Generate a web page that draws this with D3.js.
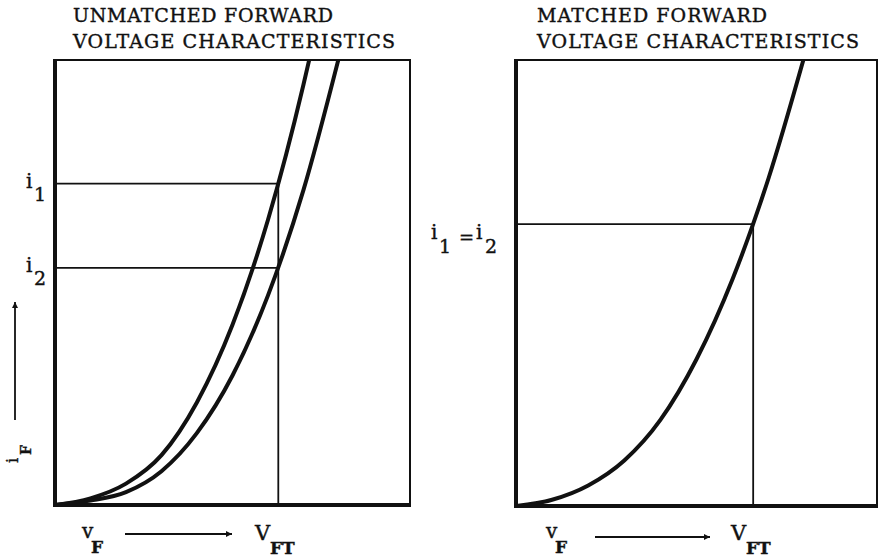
<!DOCTYPE html>
<html>
<head>
<meta charset="utf-8">
<script src="https://cdn.jsdelivr.net/npm/d3@7"></script>
<style>
	body { margin: 0; background: #fff; }
	text { font-family: "DejaVu Serif", "Liberation Serif", serif; fill: #111; stroke: #111; stroke-width: 0.4; }
</style>
</head>
<body>
<svg id="chart" width="883" height="558"></svg>
<script>
// forward voltage (0..10) vs forward current (0..10)
const curveUnmatchedA = [[0, 0], [1, 0.15], [2, 0.48], [3, 1.12], [4, 2.31], [5, 4.05], [6, 6.41], [7, 9.45], [7.16, 10]];
const curveUnmatchedB = [[0, 0], [1, 0.10], [2, 0.29], [3, 0.76], [4, 1.62], [5, 2.91], [6, 4.71], [7, 7.08], [7.98, 10]];
const curveMatched = [[0, 0], [1, 0.14], [2, 0.46], [3, 1.02], [4, 1.93], [5, 3.29], [6, 5.09], [7, 7.36], [7.96, 10]];

const unmatchedVFT = 6.29;
const unmatchedCurrents = [7.22, 5.33];
const matchedVFT = 6.57;
const matchedCurrents = [6.32];

const titlesLeft = ["UNMATCHED FORWARD", "VOLTAGE CHARACTERISTICS"];
const titlesRight = ["MATCHED FORWARD", "VOLTAGE CHARACTERISTICS"];

const svg = d3.select("#chart");

svg.append("defs").append("marker")
	.attr("id", "head")
	.attr("viewBox", "0 0 10 10")
	.attr("refX", 10).attr("refY", 5)
	.attr("markerWidth", 20).attr("markerHeight", 6)
	.attr("markerUnits", "userSpaceOnUse")
	.attr("orient", "auto")
	.append("path")
	.attr("d", "M0,0 L10,5 L0,10 Z")
	.attr("fill", "#111");

// main letter plus a lowered subscript
function subLabel(g, x, y, main, size, sx, sy, sub, subSize, bold) {
	g.append("text").attr("x", x).attr("y", y).attr("font-size", size).text(main);
	g.append("text").attr("x", sx).attr("y", sy).attr("font-size", subSize)
		.attr("font-weight", bold ? "bold" : "normal").text(sub);
}

function drawPanel(opt) {
	let x = d3.scaleLinear().domain([0, 10]).range([opt.left, opt.right]);
	let y = d3.scaleLinear().domain([0, 10]).range([opt.bottom, opt.top]);
	let g = svg.append("g");

	let clipId = "clip" + opt.left;
	g.append("clipPath").attr("id", clipId)
		.append("rect")
		.attr("x", opt.left).attr("y", opt.top)
		.attr("width", opt.right - opt.left).attr("height", opt.bottom - opt.top);

	// titles
	opt.titles.forEach((t, k) => {
		g.append("text")
			.attr("x", opt.titleX).attr("y", 22 + k * 26)
			.attr("font-size", 19)
			.attr("textLength", opt.titleWidths[k])
			.attr("lengthAdjust", "spacing")
			.text(t);
	});

	// thin frame (top and right)
	g.append("path")
		.attr("d", `M${opt.left},${opt.top} H${opt.right} V${opt.bottom}`)
		.attr("fill", "none").attr("stroke", "#111").attr("stroke-width", 2);

	// current markers and V_FT line
	opt.currents.forEach(c => {
		g.append("line")
			.attr("x1", opt.left).attr("x2", x(opt.vft))
			.attr("y1", y(c)).attr("y2", y(c))
			.attr("stroke", "#111").attr("stroke-width", 1.8);
	});
	g.append("line")
		.attr("x1", x(opt.vft)).attr("x2", x(opt.vft))
		.attr("y1", y(d3.max(opt.currents))).attr("y2", opt.bottom)
		.attr("stroke", "#111").attr("stroke-width", 1.8);

	let line = d3.line()
		.x(d => x(d[0]))
		.y(d => y(d[1]))
		.curve(d3.curveMonotoneX);

	opt.curves.forEach(c => {
		g.append("path")
			.attr("d", line(c))
			.attr("clip-path", `url(#${clipId})`)
			.attr("fill", "none").attr("stroke", "#111").attr("stroke-width", 4);
	});

	// thick axes (left and bottom)
	g.append("path")
		.attr("d", `M${opt.left},${opt.top - 1} V${opt.bottom} H${opt.right + 1}`)
		.attr("fill", "none").attr("stroke", "#111").attr("stroke-width", 4);

	// v_F  -->  V_FT
	let b = opt.bottomLabels;
	subLabel(g, b.vx, 538, "v", 20, b.vx + 9, 553, "F", 17, true);
	g.append("line")
		.attr("x1", b.ax1).attr("x2", b.ax2)
		.attr("y1", b.ay).attr("y2", b.ay)
		.attr("stroke", "#111").attr("stroke-width", 1.8)
		.attr("marker-end", "url(#head)");
	subLabel(g, b.Vx, 540, "V", 21, b.Vx + 15, 554, "FT", 17, true);

	return { x, y, g };
}

let left = drawPanel({
	left: 55, right: 410, top: 60, bottom: 505,
	titleX: 73, titleWidths: [260, 322], titles: titlesLeft,
	curves: [curveUnmatchedA, curveUnmatchedB],
	vft: unmatchedVFT, currents: unmatchedCurrents,
	bottomLabels: { vx: 82, ax1: 125, ax2: 232, ay: 534, Vx: 255 }
});

let right = drawPanel({
	left: 516, right: 877, top: 60, bottom: 506,
	titleX: 537, titleWidths: [230, 322], titles: titlesRight,
	curves: [curveMatched],
	vft: matchedVFT, currents: matchedCurrents,
	bottomLabels: { vx: 546, ax1: 595, ax2: 710, ay: 537, Vx: 731 }
});

// i1, i2 labels on the left panel
[["1", unmatchedCurrents[0]], ["2", unmatchedCurrents[1]]].forEach(([s, c]) => {
	let yy = left.y(c);
	subLabel(left.g, 26, yy + 4, "i", 20, 34, yy + 17, s, 19, false);
});

// i1 = i2 on the right panel
let ym = right.y(matchedCurrents[0]);
subLabel(right.g, 431, ym + 15, "i", 20, 439, ym + 29, "1", 19, false);
right.g.append("text").attr("x", 459).attr("y", ym + 20).attr("font-size", 18).text("=");
subLabel(right.g, 476, ym + 15, "i", 20, 485, ym + 29, "2", 19, false);

// i_F vertical label with arrow
svg.append("line")
	.attr("x1", 15).attr("x2", 15)
	.attr("y1", 420).attr("y2", 302)
	.attr("stroke", "#111").attr("stroke-width", 1.8)
	.attr("marker-end", "url(#head)");
svg.append("text")
	.attr("transform", "translate(18,463) rotate(-90)")
	.attr("font-size", 16).text("i");
svg.append("text")
	.attr("transform", "translate(31,455) rotate(-90)")
	.attr("font-size", 14).attr("font-weight", "bold").text("F");
</script>
</body>
</html>
